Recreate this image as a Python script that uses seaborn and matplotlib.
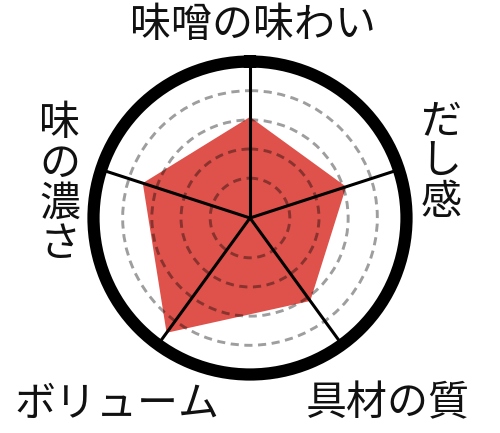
import numpy as np
import matplotlib
matplotlib.use("Agg")
import matplotlib.pyplot as plt
import seaborn as sns

categories = ["味噌の味わい", "だし感", "具材の質", "ボリューム", "味の濃さ"]
scores = [3.1, 3.1, 3.15, 4.5, 3.5]
rings = [1, 2, 3, 4]
r_max = 5

sns.set_theme(style="white")
plt.rcParams['font.family'] = ['Noto Sans CJK JP', 'DejaVu Sans']

W, H = 500, 433
fig = plt.figure(figsize=(W / 100, H / 100), dpi=100)
fig.patch.set_facecolor("white")

# polar axes placed so the ring centre sits at (250, 218) px
cx, cy, rad = 250, 218, 156.5
ax = fig.add_axes([(cx - rad) / W, (H - cy - rad) / H, 2 * rad / W, 2 * rad / H], projection="polar")
ax.set_facecolor("white")
ax.set_theta_offset(np.pi / 2)
ax.set_theta_direction(-1)

angles = np.linspace(0, 2 * np.pi, len(categories), endpoint=False)
red = sns.color_palette(["#de524b"])[0]
ax.fill(np.append(angles, angles[0]), scores + scores[:1], color=red, lw=0, zorder=1)

ax.set_ylim(-0.365, r_max)
ax.set_xticks(angles)
ax.set_yticks(rings)
ax.set_xticklabels([])
ax.set_yticklabels([])
ax.set_axisbelow(False)
ax.xaxis.grid(True, color="black", lw=2.2, ls="-")
ax.yaxis.grid(True, color="black", alpha=0.38, lw=2.1, ls=(0, (2.8, 1.9)))
ax.spines["polar"].set_linewidth(8.8)
ax.spines["polar"].set_color("black")

fs = 29.5
def label(txt, x, y, **kw):
    fig.text(x / W, 1 - y / H, txt, ha="center", va="center", fontsize=fs, color="#111111", **kw)

label(categories[0], 253, 25)
label("\n".join(categories[1]), 441, 162, linespacing=0.97)
label(categories[2], 388, 404)
label(categories[3], 117, 404)
label("\n".join(categories[4]), 60, 184, linespacing=0.97)

fig.savefig("out.png", dpi=100)
